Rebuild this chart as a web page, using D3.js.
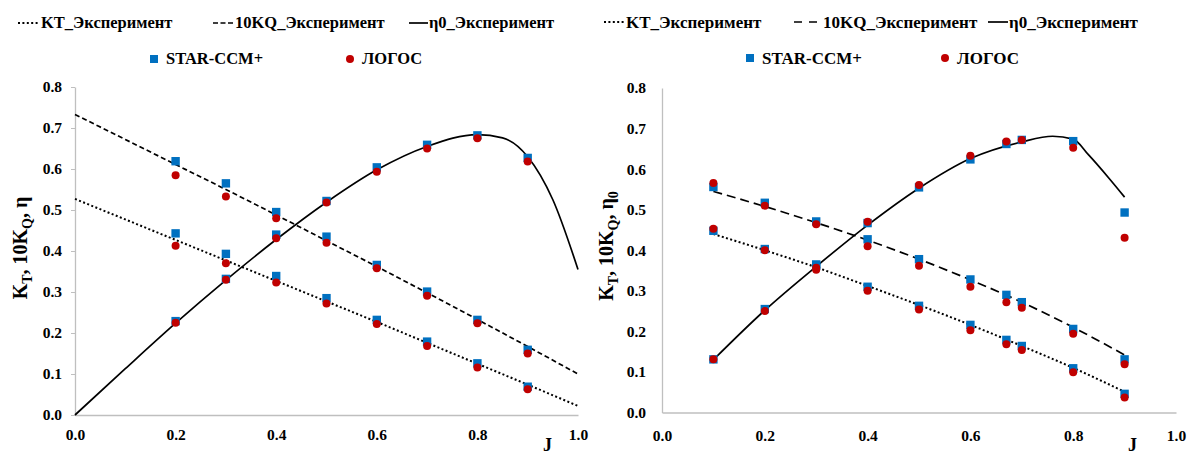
<!DOCTYPE html>
<html>
<head>
<meta charset="utf-8">
<script src="https://cdn.jsdelivr.net/npm/d3@7"></script>
<style>
body { margin: 0; background: #fff; }
</style>
</head>
<body>
<svg id="chart" width="1189" height="455"></svg>
<script>
"use strict";

// ---- left panel data ----
const leftJ = [0.2, 0.3, 0.4, 0.5, 0.6, 0.7, 0.8, 0.9];
const leftStarKT = [0.443, 0.393, 0.339, 0.285, 0.232, 0.179, 0.126, 0.069];
const leftLogosKT = [0.413, 0.370, 0.323, 0.272, 0.222, 0.168, 0.116, 0.063];
const leftStarKQ = [0.619, 0.565, 0.495, 0.435, 0.366, 0.301, 0.232, 0.159];
const leftLogosKQ = [0.585, 0.533, 0.480, 0.420, 0.358, 0.291, 0.224, 0.150];
const leftStarEta = [0.229, 0.332, 0.440, 0.522, 0.604, 0.659, 0.682, 0.627];
const leftLogosEta = [0.225, 0.330, 0.431, 0.518, 0.593, 0.650, 0.675, 0.618];

const leftCurveJ = [0, 0.1, 0.2, 0.3, 0.4, 0.5, 0.6, 0.7, 0.8, 0.9, 1.0];
const leftCurveKT = [0.527, 0.477, 0.427, 0.377, 0.327, 0.277, 0.227, 0.176, 0.125, 0.074, 0.022];
const leftCurveKQ = [0.733, 0.672, 0.611, 0.550, 0.488, 0.425, 0.362, 0.298, 0.233, 0.167, 0.100];
const leftEtaJ = [0, 0.1, 0.2, 0.3, 0.4, 0.5, 0.6, 0.7, 0.8, 0.85, 0.9, 0.95, 1.0];
const leftEtaCurve = [0, 0.113, 0.224, 0.329, 0.428, 0.519, 0.598, 0.655, 0.684, 0.676, 0.630, 0.525, 0.355];

// ---- right panel data ----
const rightJ = [0.1, 0.2, 0.3, 0.4, 0.5, 0.6, 0.67, 0.7, 0.8, 0.9];
const rightStarKT = [0.448, 0.403, 0.365, 0.310, 0.263, 0.216, 0.179, 0.164, 0.109, 0.046];
const rightLogosKT = [0.453, 0.400, 0.357, 0.300, 0.254, 0.203, 0.168, 0.154, 0.099, 0.037];
const rightStarKQ = [0.556, 0.517, 0.471, 0.427, 0.378, 0.328, 0.290, 0.272, 0.206, 0.131];
const rightLogosKQ = [0.566, 0.510, 0.464, 0.410, 0.362, 0.310, 0.272, 0.258, 0.194, 0.119];
const rightStarEta = [0.131, 0.255, 0.362, 0.467, 0.555, 0.624, 0.662, 0.672, 0.669, 0.493];
const rightLogosEta = [0.131, 0.250, 0.352, 0.470, 0.561, 0.633, 0.668, 0.672, 0.653, 0.431];

const rightCurveJ = [0.1, 0.2, 0.3, 0.4, 0.5, 0.6, 0.7, 0.8, 0.9];
const rightCurveKT = [0.440, 0.400, 0.358, 0.312, 0.265, 0.216, 0.164, 0.110, 0.051];
const rightCurveKQ = [0.545, 0.508, 0.468, 0.425, 0.378, 0.327, 0.272, 0.210, 0.142];
const rightEtaJ = [0.1, 0.2, 0.3, 0.4, 0.5, 0.6, 0.7, 0.76, 0.8, 0.83, 0.87, 0.9];
const rightEtaCurve = [0.130, 0.252, 0.360, 0.462, 0.553, 0.626, 0.667, 0.681, 0.674, 0.635, 0.577, 0.531];

// ticks + legend text
const xTicks = [0, 0.2, 0.4, 0.6, 0.8, 1.0];
const yTicks = [0, 0.1, 0.2, 0.3, 0.4, 0.5, 0.6, 0.7, 0.8];
const lineNames = ["KT_Эксперимент", "10KQ_Эксперимент", "η0_Эксперимент"];
const markerNames = ["STAR-CCM+", "ЛОГОС"];

const BLUE = "#0070c0";
const RED = "#c00000";
const AXIS = "#bfbfbf";
const FONT = "'Liberation Serif', 'Times New Roman', serif";

const svg = d3.select("#chart");
const fmt = d3.format(".1f");

function zip(xs, ys) { return xs.map((x, i) => [x, ys[i]]); }

function drawPanel(p) {
    let x = d3.scaleLinear().domain([0, 1]).range([p.x0, p.x1]);
    let y = d3.scaleLinear().domain([0, 0.8]).range([p.y0, p.y1]);
    let g = svg.append("g");

    // axes
    let ya = g.append("g").attr("transform", "translate(" + p.x0 + ",0)")
        .call(d3.axisLeft(y).tickValues(yTicks).tickFormat(fmt)
            .tickSize(p.ytick).tickSizeOuter(0).tickPadding(p.ypad));
    let xa = g.append("g").attr("transform", "translate(0," + p.y0 + ")")
        .call(d3.axisBottom(x).tickValues(xTicks).tickFormat(fmt)
            .tickSize(0).tickSizeOuter(0).tickPadding(p.xpad));
    [ya, xa].forEach(a => {
        a.select(".domain").attr("stroke", AXIS).attr("stroke-width", 1.3);
        a.selectAll(".tick line").attr("stroke", AXIS);
        a.selectAll("text").style("font-size", "15.5px");
    });

    // experiment curves
    let line = d3.line().x(d => x(d[0])).y(d => y(d[1])).curve(d3.curveMonotoneX);
    g.append("path").attr("d", line(zip(p.curveJ, p.curveKT)))
        .attr("fill", "none").attr("stroke", "#000").attr("stroke-width", 2)
        .attr("stroke-dasharray", "2,2.4");
    g.append("path").attr("d", line(zip(p.curveJ, p.curveKQ)))
        .attr("fill", "none").attr("stroke", "#000").attr("stroke-width", 1.7)
        .attr("stroke-dasharray", p.dash);
    g.append("path").attr("d", line(zip(p.etaJ, p.etaCurve)))
        .attr("fill", "none").attr("stroke", "#000").attr("stroke-width", 1.7);

    // markers: squares then circles on top
    let sq = [].concat(zip(p.J, p.starKT), zip(p.J, p.starKQ), zip(p.J, p.starEta));
    let ci = [].concat(zip(p.J, p.logosKT), zip(p.J, p.logosKQ), zip(p.J, p.logosEta));
    g.selectAll("rect.star").data(sq).join("rect").attr("class", "star")
        .attr("x", d => x(d[0]) - 4.2).attr("y", d => y(d[1]) - 4.2)
        .attr("width", 8.4).attr("height", 8.4).attr("fill", BLUE);
    g.selectAll("circle.logos").data(ci).join("circle").attr("class", "logos")
        .attr("cx", d => x(d[0])).attr("cy", d => y(d[1])).attr("r", 4)
        .attr("fill", RED);

    // axis titles
    let yt = g.append("text")
        .attr("transform", "translate(" + p.ylabX + "," + p.ylabY + ") rotate(-90)")
        .attr("text-anchor", "middle").style("font-size", "20px");
    yt.append("tspan").text("K");
    yt.append("tspan").text("T").attr("dy", 5).style("font-size", "14px");
    yt.append("tspan").text(", 10K").attr("dy", -5);
    yt.append("tspan").text("Q").attr("dy", 5).style("font-size", "14px");
    yt.append("tspan").text(", η").attr("dy", -5);
    if (p.etaSub) yt.append("tspan").text("0").attr("dy", 5).style("font-size", "14px");

    g.append("text").attr("x", p.jx).attr("y", 451).text("J").style("font-size", "18px");

    // legend
    let L = p.legend;
    let r1 = L.row1, r2 = L.row2;
    let styles = [{w: 2, dash: "2,2.4"}, {w: 1.7, dash: L.dash}, {w: 1.7, dash: null}];
    lineNames.forEach((name, i) => {
        let it = L.lines[i];
        g.append("line").attr("x1", it[0]).attr("x2", it[1]).attr("y1", r1).attr("y2", r1)
            .attr("stroke", "#000").attr("stroke-width", styles[i].w)
            .attr("stroke-dasharray", styles[i].dash);
        g.append("text").attr("x", it[2]).attr("y", r1).attr("dy", "0.33em")
            .style("font-size", L.size + "px").text(name);
    });
    g.append("rect").attr("x", L.sq - 4).attr("y", r2 - 4).attr("width", 8).attr("height", 8)
        .attr("fill", BLUE);
    g.append("text").attr("x", L.sq + 12).attr("y", r2).attr("dy", "0.33em")
        .style("font-size", L.size + "px").text(markerNames[0]);
    g.append("circle").attr("cx", L.ci).attr("cy", r2).attr("r", 4).attr("fill", RED);
    g.append("text").attr("x", L.ci + 12).attr("y", r2).attr("dy", "0.33em")
        .style("font-size", L.size + "px").text(markerNames[1]);
}

drawPanel({
    x0: 75, x1: 578, y0: 415, y1: 87, ytick: 4, ypad: 9, xpad: 14,
    J: leftJ, starKT: leftStarKT, logosKT: leftLogosKT, starKQ: leftStarKQ,
    logosKQ: leftLogosKQ, starEta: leftStarEta, logosEta: leftLogosEta,
    curveJ: leftCurveJ, curveKT: leftCurveKT, curveKQ: leftCurveKQ,
    etaJ: leftEtaJ, etaCurve: leftEtaCurve, dash: "5,3",
    ylabX: 27, ylabY: 248, etaSub: false, jx: 543,
    legend: {row1: 23, row2: 59, size: 16.5, dash: "5,2.5",
             lines: [[18, 40, 41], [213, 233, 235], [409, 428, 429]], sq: 154, ci: 350}
});

drawPanel({
    x0: 662, x1: 1176, y0: 412.5, y1: 88, ytick: 0, ypad: 16, xpad: 17,
    J: rightJ, starKT: rightStarKT, logosKT: rightLogosKT, starKQ: rightStarKQ,
    logosKQ: rightLogosKQ, starEta: rightStarEta, logosEta: rightLogosEta,
    curveJ: rightCurveJ, curveKT: rightCurveKT, curveKQ: rightCurveKQ,
    etaJ: rightEtaJ, etaCurve: rightEtaCurve, dash: "9,5",
    ylabX: 613, ylabY: 246, etaSub: true, jx: 1128,
    legend: {row1: 22, row2: 58, size: 17, dash: "8,7",
             lines: [[604, 624, 626], [794, 820, 823], [988, 1008, 1009]], sq: 750, ci: 945}
});

// serif bold everywhere, set inline so nothing overrides it
svg.selectAll("text").style("font-family", FONT).style("font-weight", "bold").attr("fill", "#000");
</script>
</body>
</html>
